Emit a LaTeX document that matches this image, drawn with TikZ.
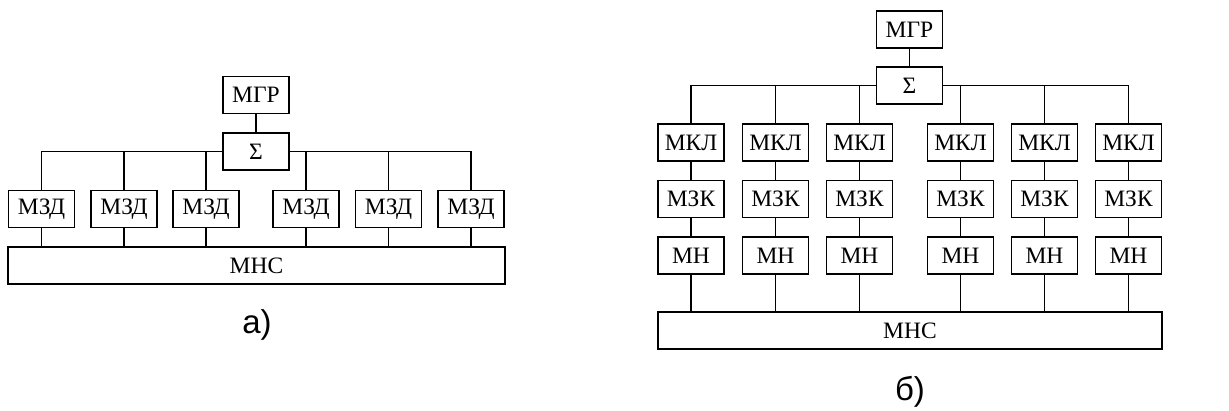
\documentclass[tikz,border=0pt]{standalone}
\usepackage{fontspec}
\setmainfont{Liberation Serif}
\newfontfamily\labelfont{Liberation Sans}
\begin{document}
\begin{tikzpicture}[x=1pt,y=-1pt,
  line width=1.1pt,
  blk/.style={draw, line width=1.1pt, minimum width=66pt, minimum height=37pt,
    inner sep=0pt, font=\fontsize{23.5}{23.5}\selectfont},
  wire/.style={line width=1.1pt},
  caption/.style={font=\labelfont\fontsize{33}{33}\selectfont}]
\useasboundingbox (0,0) rectangle (1229,410);

% ---------- scheme (a) ----------
\node[blk] (ga) at (256,95) {МГР};
\node[blk] (sa) at (256,151.5) {Σ};
\foreach \i/\x in {1/41.5,2/124,3/206,4/306,5/388.5,6/471}
  \node[blk] (d\i) at (\x,209) {МЗД};
\node[blk, minimum width=497pt] (na) at (256.5,265.5) {МНС};
\node[caption] (la) at (257,325) {а)};

\draw[wire] (ga) -- (sa);
\foreach \i in {1,2,3}
  \draw[wire] (sa.west) -| (d\i.north);
\foreach \i in {4,5,6}
  \draw[wire] (sa.east) -| (d\i.north);
\foreach \i in {1,...,6}
  \draw[wire] (d\i.south) -- (d\i.south |- na.north);

% ---------- scheme (b) ----------
\node[blk] (gb) at (909.5,29.5) {МГР};
\node[blk] (sb) at (909.5,85.5) {Σ};
\foreach \i/\x in {1/691,2/775.5,3/859.5,4/960.5,5/1044.5,6/1128.5}{
  \node[blk] (k\i) at (\x,142.5) {МКЛ};
  \node[blk] (z\i) at (\x,199) {МЗК};
  \node[blk] (h\i) at (\x,255.5) {МН};
}
\node[blk, minimum width=504pt] (nb) at (910,330.5) {МНС};
\node[caption] (lb) at (910,392) {б)};

\draw[wire] (gb) -- (sb);
\foreach \i in {1,2,3}
  \draw[wire] (sb.west) -| (k\i.north);
\foreach \i in {4,5,6}
  \draw[wire] (sb.east) -| (k\i.north);
\foreach \i in {1,...,6}{
  \draw[wire] (k\i) -- (z\i);
  \draw[wire] (z\i) -- (h\i);
  \draw[wire] (h\i.south) -- (h\i.south |- nb.north);
}
\end{tikzpicture}
\end{document}
